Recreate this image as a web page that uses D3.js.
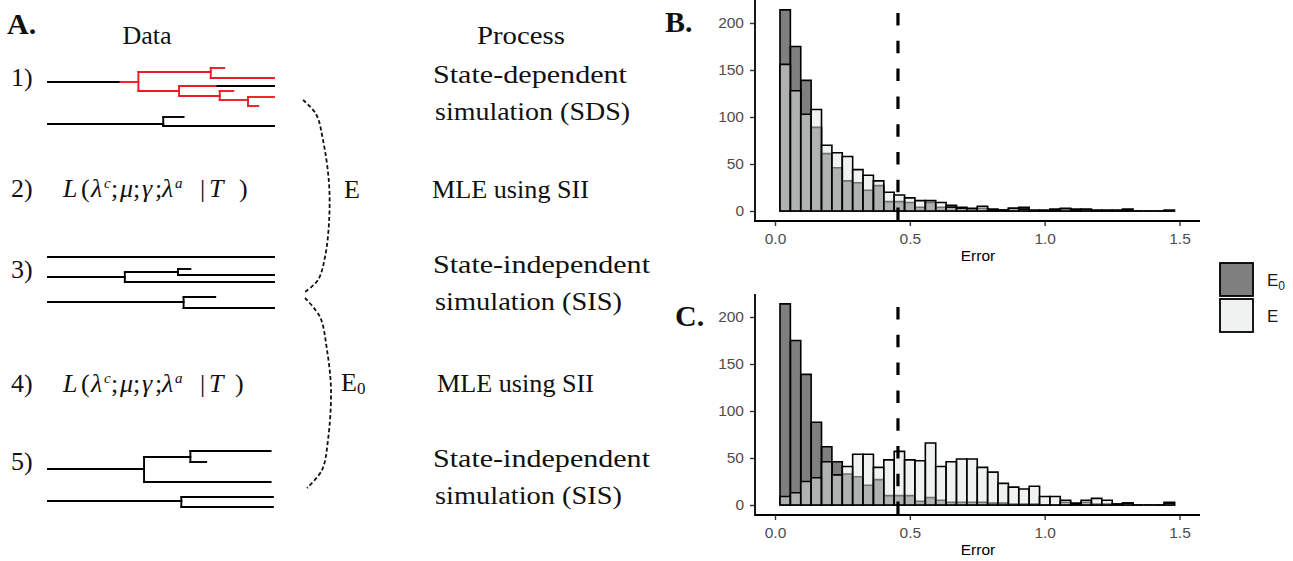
<!DOCTYPE html>
<html>
<head>
<meta charset="utf-8">
<script src="https://cdn.jsdelivr.net/npm/d3@7"></script>
<style>
  body { margin: 0; background: #fff; }
  svg { display: block; }
  .serif { font-family: "Liberation Serif", "DejaVu Serif", serif; }
  .sans { font-family: "Liberation Sans", Arial, sans-serif; }
</style>
</head>
<body>
<svg id="fig" width="1293" height="561"></svg>
<script>
// histogram bins (Error)
var binStart = 0.0185;
var binWidth = 0.0385;

// panel B counts
var bE0 = [214,175,139,89,61,46,32,30,22,27,10,10,9,4,9,4,6,4,2,3,2,1,3,4,1,0,2,2,2,1,0,1,0,2,0,0,0,1];
var bE  = [156,128,103,108,70,62,58,44,38,32,20,17,14,11,11,9,4,3,3,5,1,1,3,2,0,1,1,3,1,2,1,0,1,1,0,0,0,0];
// panel C counts
var cE0 = [214,175,139,88,62,46,33,30,21,27,10,10,10,4,8,5,3,3,3,3,2,2,1,1,1,0,0,3,2,3,1,1,1,2,0,0,0,3];
var cE  = [9,13,25,29,46,32,41,54,54,40,48,57,48,47,66,41,46,49,49,40,35,23,19,17,20,9,9,5,1,5,7,5,1,2,0,0,0,2];

var xTicks = [0, 0.5, 1.0, 1.5];
var yTicks = [0, 50, 100, 150, 200];
var cutoff = 0.456;

// panel A trees: t = branch end time (0..1), y = row position
var trees = [
  {t:0.40, y:82, col:"red", pre:"black", at:0.32, c:[
    {t:0.72, y:72, col:"red", c:[{t:0.78, y:68, col:"red"}, {t:1, y:78, col:"red"}]},
    {t:0.58, y:91, col:"red", c:[
      {t:1, y:86, col:"black", pre:"red", at:0.75},
      {t:0.76, y:96, col:"red", c:[
        {t:0.82, y:91, col:"red"},
        {t:0.885, y:100, col:"red", c:[{t:1, y:97, col:"red"}, {t:0.93, y:106, col:"red"}]}
      ]}
    ]}
  ]},
  {t:0.51, y:124, c:[{t:0.60, y:117}, {t:1, y:126}]},
  {t:1, y:257},
  {t:0.34, y:277, c:[{t:0.575, y:272, c:[{t:0.63, y:269}, {t:1, y:275}]}, {t:1, y:282}]},
  {t:0.60, y:302, c:[{t:0.74, y:297}, {t:1, y:308}]},
  {t:0.425, y:469, c:[{t:0.63, y:457, c:[{t:0.985, y:451}, {t:0.70, y:462}]}, {t:0.985, y:482}]},
  {t:0.59, y:501, c:[{t:0.995, y:497}, {t:0.995, y:507}]}
];

var svg = d3.select("#fig");
var RED = "#ec1c24";

// ---------- panel A ----------
var tx = d3.scaleLinear().domain([0, 1]).range([48, 274]);
var ga = svg.append("g");

function seg(x1, y1, x2, y2, col) {
  ga.append("line").attr("x1", x1).attr("y1", y1).attr("x2", x2).attr("y2", y2)
    .attr("stroke", col == "red" ? RED : "#000").attr("stroke-width", 1.9)
    .attr("stroke-linecap", "square");
}
function drawNode(n, t0) {
  var col = n.col || "black";
  if (n.at != null) {
    seg(tx(t0), n.y, tx(n.at), n.y, n.pre);
    seg(tx(n.at), n.y, tx(n.t), n.y, col);
  } else {
    seg(tx(t0), n.y, tx(n.t), n.y, col);
  }
  if (n.c) {
    var ys = n.c.map(function(d) { return d.y; });
    seg(tx(n.t), d3.min(ys), tx(n.t), d3.max(ys), col);
    n.c.forEach(function(ch) { drawNode(ch, n.t); });
  }
}
trees.forEach(function(tr) { drawNode(tr, 0); });

function txt(s, x, y, size, opts) {
  opts = opts || {};
  var t = svg.append("text").attr("class", opts.cls || "serif").attr("x", x).attr("y", y)
    .attr("font-size", size).attr("fill", opts.fill || "#111").text(s);
  if (opts.anchor) t.attr("text-anchor", opts.anchor);
  if (opts.bold) t.attr("font-weight", "bold");
  if (opts.italic) t.attr("font-style", "italic");
  if (opts.len) t.attr("textLength", opts.len).attr("lengthAdjust", "spacingAndGlyphs");
  return t;
}

txt("A.", 7, 34, 30, {bold: true});
txt("Data", 147, 44, 26, {anchor: "middle"});
txt("Process", 521, 44, 26, {anchor: "middle", len: 88});

[["1)", 86], ["2)", 197], ["3)", 278], ["4)", 392], ["5)", 470]].forEach(function(d) {
  txt(d[0], 11, d[1], 26);
});

function formula(y, closeX) {
  txt("L", 63, y, 26, {italic: true});
  txt("(", 81, y, 26);
  txt("\u03bb", 91, y, 26, {italic: true});
  txt("c", 104, y - 9, 15, {italic: true});
  txt(";", 111, y, 26);
  txt("\u03bc", 120, y, 26, {italic: true});
  txt(";", 133, y, 26);
  txt("\u03b3", 142, y, 26, {italic: true});
  txt(";", 155, y, 26);
  txt("\u03bb", 162, y, 26, {italic: true});
  txt("a", 175, y - 9, 15, {italic: true});
  txt("|", 200, y, 26);
  txt("T", 209, y, 26, {italic: true});
  txt(")", closeX, y, 26);
}
formula(197, 239);
formula(392, 235);

txt("E", 344, 198, 26);
var e0 = txt("E", 341, 391, 26);
e0.append("tspan").attr("font-size", 17).attr("dy", 3).text("0");

var proc = [
  ["State-dependent", 433, 83, 194], ["simulation (SDS)", 435, 120, 195],
  ["MLE using SII", 432, 198, 157],
  ["State-independent", 433, 273, 217], ["simulation (SIS)", 435, 310, 187],
  ["MLE using SII", 437, 392, 157],
  ["State-independent", 433, 467, 217], ["simulation (SIS)", 435, 504, 187]
];
proc.forEach(function(d) { txt(d[0], d[1], d[2], 26, {len: d[3]}); });

// dashed braces
var brace = d3.line().curve(d3.curveCatmullRom);
var braceUp = [[303,100],[316,114],[323,140],[329,183],[329,223],[325,257],[318,280],[305,292]];
var braceLo = [[305,298],[320,317],[327,350],[331,390],[328,440],[322,470],[307,488]];
[braceUp, braceLo].forEach(function(p) {
  svg.append("path").attr("d", brace(p)).attr("fill", "none")
    .attr("stroke", "#111").attr("stroke-width", 1.8).attr("stroke-dasharray", "4,2.5");
});

// ---------- panels B and C ----------
var x = d3.scaleLinear().domain([0, 1.5]).range([775, 1179.5]);

function panel(zeroY, countsE0, countsE, label, labelX) {
  var y = d3.scaleLinear().domain([0, 200]).range([zeroY, zeroY - 188]);
  var axisY = zeroY + 10;
  var top = zeroY - 211;
  var g = svg.append("g");

  function bars(counts, fill) {
    var bins = counts.map(function(n, i) {
      return {x0: binStart + i * binWidth, x1: binStart + (i + 1) * binWidth, n: n};
    });
    g.selectAll(null).data(bins).enter().append("path")
      .attr("d", function(d) {
        return "M" + x(d.x0) + "," + y(0) + "V" + y(d.n) + "H" + x(d.x1) + "V" + y(0) + "Z";
      })
      .attr("fill", fill).attr("fill-opacity", 0.5)
      .attr("stroke", "#000").attr("stroke-width", 1.6);
  }
  bars(countsE0, "#000");
  bars(countsE, "#e1e5e5");

  g.append("line").attr("x1", x(cutoff)).attr("x2", x(cutoff))
    .attr("y1", top + 13).attr("y2", axisY)
    .attr("stroke", "#000").attr("stroke-width", 3.2).attr("stroke-dasharray", "12.5,15.3");

  var xa = g.append("g").attr("transform", "translate(0," + axisY + ")")
    .call(d3.axisBottom(x).tickValues(xTicks).tickFormat(d3.format(".1f")).tickSize(5).tickPadding(7));
  var ya = g.append("g").attr("transform", "translate(755,0)")
    .call(d3.axisLeft(y).tickValues(yTicks).tickSize(5).tickPadding(6));
  [xa, ya].forEach(function(a) {
    a.select(".domain").remove();
    a.selectAll("line").attr("stroke", "#333").attr("stroke-width", 1.4);
    a.selectAll("text").attr("class", "sans").attr("font-size", 15.5).attr("fill", "#4d4d4d");
  });
  g.append("path").attr("d", "M755," + top + "V" + axisY + "H1200")
    .attr("fill", "none").attr("stroke", "#000").attr("stroke-width", 1.8);

  txt("Error", 978, axisY + 40, 15.5, {cls: "sans", anchor: "middle", fill: "#000"});
  txt(label, labelX, zeroY - 179, 30, {bold: true});
}
panel(211, bE0, bE, "B.", 665);
panel(505, cE0, cE, "C.", 675);

// legend
var legend = [{name: "E", sub: "0", fill: "#000", y: 263}, {name: "E", sub: "", fill: "#e1e5e5", y: 299}];
legend.forEach(function(d) {
  svg.append("rect").attr("x", 1220).attr("y", d.y).attr("width", 33).attr("height", 33)
    .attr("fill", "#fff").attr("stroke", "none");
  svg.append("rect").attr("x", 1220).attr("y", d.y).attr("width", 33).attr("height", 33)
    .attr("fill", d.fill).attr("fill-opacity", 0.5).attr("stroke", "#000").attr("stroke-width", 1.8);
  var t = txt(d.name, 1267, d.y + 23, 17, {cls: "sans", fill: "#1a1a1a"});
  if (d.sub) t.append("tspan").attr("font-size", 12).attr("dy", 4).text(d.sub);
});
</script>
</body>
</html>
